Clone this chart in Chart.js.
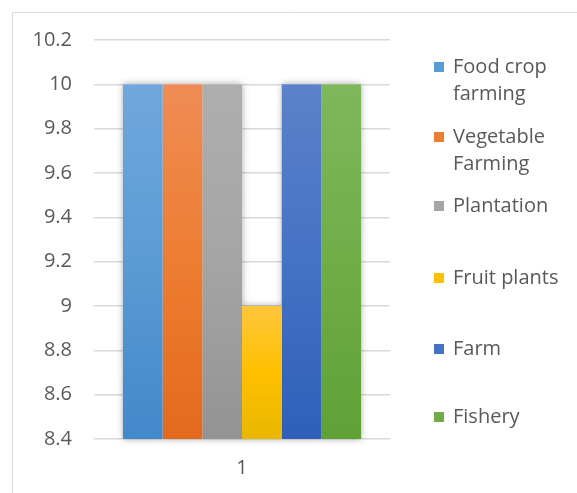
<!DOCTYPE html>
<html>
<head>
<meta charset="utf-8">
<script src="https://cdn.jsdelivr.net/npm/chart.js@4/dist/chart.umd.min.js"></script>
<style>
html,body{margin:0;padding:0;background:#fff;}
#wrap{position:relative;width:577px;height:493px;}
</style>
</head>
<body>
<div id="wrap"><canvas id="c" width="577" height="493"></canvas></div>
<script>
const categories = ['1'];
const seriesNames = ['Food crop farming', 'Vegetable Farming', 'Plantation', 'Fruit plants', 'Farm', 'Fishery'];
const legendLines = [['Food crop', 'farming'], ['Vegetable', 'Farming'], ['Plantation'], ['Fruit plants'], ['Farm'], ['Fishery']];
const seriesValues = [[10], [10], [10], [9], [10], [10]];
const yTicks = [8.4, 8.6, 8.8, 9, 9.2, 9.4, 9.6, 9.8, 10, 10.2];

const baseColors = ['#5B9BD5', '#ED7D31', '#A5A5A5', '#FFC000', '#4472C4', '#70AD47'];
const topColors  = ['#71A7DC', '#F08C56', '#AEAEAE', '#FFC63C', '#5B82CA', '#7FB85C'];
const botColors  = ['#4388CB', '#E36A1C', '#939393', '#E8B700', '#2F5FB8', '#5FA137'];

const FONT = '"Open Sans", "Liberation Sans", sans-serif';
const TXT = '#595959';
const FS = 20;

function grad(i) {
  return function(ctx) {
    const chart = ctx.chart;
    const area = chart.chartArea;
    if (!area) return baseColors[i];
    const y = chart.scales.y;
    const v = ctx.raw != null ? ctx.raw : seriesValues[i][0];
    const top = y.getPixelForValue(v);
    const bot = y.getPixelForValue(y.min);
    const g = chart.ctx.createLinearGradient(0, top, 0, bot);
    g.addColorStop(0, topColors[i]);
    g.addColorStop(0.5, baseColors[i]);
    g.addColorStop(1, botColors[i]);
    return g;
  };
}

const frame = {
  id: 'frame',
  beforeDraw(chart) {
    const c = chart.ctx;
    c.save();
    c.fillStyle = '#fff';
    c.fillRect(0, 0, chart.width, chart.height);
    c.strokeStyle = '#d9d9d9';
    c.lineWidth = 1;
    c.beginPath();
    c.moveTo(12.5, chart.height);
    c.lineTo(12.5, 12.5);
    c.lineTo(chart.width, 12.5);
    c.stroke();
    c.restore();
  }
};

const shadow = {
  id: 'shadow',
  beforeDatasetsDraw(chart) {
    const c = chart.ctx;
    const area = chart.chartArea;
    c.save();
    c.shadowColor = 'rgba(0,0,0,0.35)';
    c.shadowBlur = 7;
    c.shadowOffsetX = 0;
    c.shadowOffsetY = 0;
    c.fillStyle = '#ffffff';
    chart.data.datasets.forEach((ds, i) => {
      const meta = chart.getDatasetMeta(i);
      meta.data.forEach(el => {
        const p = el.getProps(['x', 'y', 'base', 'width'], true);
        const b = Math.min(p.base, area.bottom);
        c.fillRect(p.x - p.width / 2, p.y, p.width, b - p.y);
      });
    });
    c.restore();
  }
};

const legendPlugin = {
  id: 'customLegend',
  afterDraw(chart) {
    const c = chart.ctx;
    const centers = [67, 137, 206, 278, 349, 417];
    const lh = 27;
    c.save();
    c.font = FS + 'px ' + FONT;
    c.textBaseline = 'middle';
    c.textAlign = 'left';
    legendLines.forEach((lines, i) => {
      const cy = centers[i];
      c.fillStyle = baseColors[i];
      c.fillRect(434, cy - 5, 10, 10);
      c.fillStyle = TXT;
      lines.forEach((t, j) => {
        c.fillText(t, 453, cy + j * lh);
      });
    });
    c.restore();
  }
};

new Chart(document.getElementById('c'), {
  type: 'bar',
  data: {
    labels: categories,
    datasets: seriesNames.map((n, i) => ({
      label: n,
      data: seriesValues[i],
      backgroundColor: grad(i),
      borderWidth: 0,
      categoryPercentage: 0.805,
      barPercentage: 1
    }))
  },
  options: {
    responsive: false,
    animation: false,
    events: [],
    layout: { padding: { left: 0, right: 187, top: 40, bottom: 0 } },
    plugins: {
      legend: { display: false },
      tooltip: { enabled: false },
      title: { display: false }
    },
    scales: {
      x: {
        grid: { display: false, drawTicks: false },
        border: { display: false },
        ticks: { color: TXT, font: { family: FONT, size: FS }, padding: 17 },
        afterFit(s) { s.height = 54; }
      },
      y: {
        min: yTicks[0],
        max: yTicks[yTicks.length - 1],
        afterBuildTicks(s) { s.ticks = yTicks.map(v => ({ value: v })); },
        grid: { color: '#d9d9d9', lineWidth: 1.5, drawTicks: false },
        border: { display: false },
        ticks: {
          color: TXT,
          font: { family: FONT, size: FS },
          padding: 22,
          callback: v => String(Number(v.toFixed(1)))
        },
        afterFit(s) { s.width = 94; }
      }
    }
  },
  plugins: [frame, shadow, legendPlugin]
});
</script>
</body>
</html>
